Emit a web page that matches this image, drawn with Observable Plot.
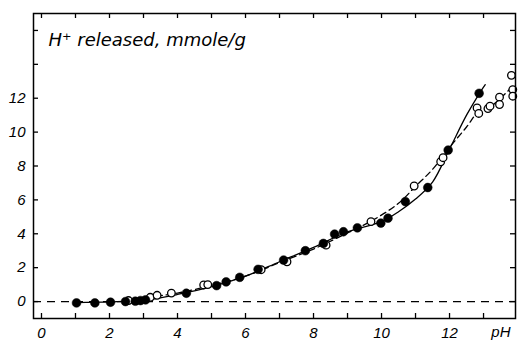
<!DOCTYPE html>
<html><head><meta charset="utf-8">
<script src="https://cdn.jsdelivr.net/npm/d3@7"></script>
<script src="https://cdn.jsdelivr.net/npm/@observablehq/plot@0.6"></script>
<style>
body{margin:0;background:#fff;}
svg{font-family:"Liberation Sans",Arial,sans-serif;}
</style>
</head><body>
<div id="chart"></div>
<script>
// Filled circles (solid curve)
const filledPH = [1.03,1.57,2.03,2.47,2.76,2.91,3.06,4.26,5.15,5.43,5.83,6.37,7.12,7.76,8.29,8.62,8.88,9.29,9.98,10.19,10.7,11.36,11.96,12.87];
const filledH  = [-0.08,-0.08,-0.04,0.0,0.02,0.06,0.1,0.49,0.94,1.16,1.43,1.9,2.45,3.0,3.43,3.98,4.12,4.35,4.63,4.92,5.9,6.73,8.94,12.29];
// Open circles (dashed curve)
const openPH = [2.56,3.2,3.4,3.82,4.77,4.89,6.46,7.22,8.37,9.69,10.96,11.74,11.81,12.81,12.86,13.13,13.19,13.47,13.47,13.82,13.86,13.86];
const openH  = [0.06,0.25,0.37,0.5,0.98,1.0,1.88,2.35,3.33,4.72,6.82,8.25,8.49,11.43,11.1,11.39,11.53,12.06,11.63,13.35,12.51,12.12];
// Curve nodes
const solidPH = [1.0,2.0,3.0,4.0,5.0,6.0,7.0,8.0,9.0,10.0,10.5,11.0,11.5,12.0,12.5,12.9,13.05];
const solidH  = [-0.06,-0.02,0.08,0.42,0.88,1.5,2.35,3.2,4.12,4.72,5.3,6.05,7.05,9.0,11.0,12.35,12.8];
const dashPH = [2.5,3.4,4.0,5.0,6.0,7.0,8.0,9.0,9.7,10.5,11.0,11.5,12.0,12.5,12.85,13.2,13.5,13.85];
const dashH  = [0.05,0.32,0.5,0.95,1.5,2.3,3.1,4.05,4.75,5.8,6.8,7.8,9.1,10.3,11.2,11.5,12.0,12.7];
// Axes
const xTicks = [0,1,2,3,4,5,6,7,8,9,10,11,12,13];
const xLabels = [0,2,4,6,8,10,12];
const yTicks = [0,2,4,6,8,10,12,14,16];
const yLabels = [0,2,4,6,8,10,12];
const yTitle = "H\u207A released, mmole/g";
const xTitle = "pH";

const filled = filledPH.map((x,i)=>({x, y: filledH[i]}));
const open = openPH.map((x,i)=>({x, y: openH[i]}));
const solid = solidPH.map((x,i)=>({x, y: solidH[i]}));
const dashed = dashPH.map((x,i)=>({x, y: dashH[i]}));

const xDom = [-0.235, 13.94], yDom = [-1, 17];
const tx = 5/34, ty = 5/17; // inward tick length (5px) in data units
const font = {fontSize: 15, fontStyle: "italic"};

const chart = Plot.plot({
  width: 518, height: 340,
  marginLeft: 33, marginRight: 3, marginTop: 13, marginBottom: 22,
  x: {domain: xDom}, y: {domain: yDom},
  style: {fontFamily: "Liberation Sans, Arial, sans-serif"},
  marks: [
    Plot.ruleY([0], {stroke: "black", strokeWidth: 1.2, strokeDasharray: "8,6"}),
    // inward ticks
    Plot.ruleX(xTicks, {x: d=>d, y1: yDom[0], y2: yDom[0]+ty, strokeWidth: 1.3}),
    Plot.ruleX(xTicks, {x: d=>d, y1: yDom[1], y2: yDom[1]-ty, strokeWidth: 1.3}),
    Plot.ruleY(yTicks, {y: d=>d, x1: xDom[0], x2: xDom[0]+tx, strokeWidth: 1.3}),
    Plot.ruleY(yTicks, {y: d=>d, x1: xDom[1], x2: xDom[1]-tx, strokeWidth: 1.3}),
    Plot.axisX(xLabels, {tickSize: 0, tickPadding: 9, ...font, fill: "black", label: null}),
    Plot.axisY(yLabels, {tickSize: 0, tickPadding: 8, ...font, fill: "black", label: null}),
    Plot.text([xTitle], {frameAnchor: "bottom-right", dx: -5, dy: 14, lineAnchor: "middle", ...font, fill: "black"}),
    Plot.text([yTitle], {frameAnchor: "top-left", dx: 15, dy: 27, lineAnchor: "middle", textAnchor: "start", fontFamily: "DejaVu Sans, sans-serif", fontSize: 18, fontStyle: "italic", letterSpacing: "0.8px", fill: "black"}),
    Plot.line(dashed, {x: "x", y: "y", curve: "catmull-rom", stroke: "black", strokeWidth: 1.3, strokeDasharray: "6,4"}),
    Plot.line(solid, {x: "x", y: "y", curve: "catmull-rom", stroke: "black", strokeWidth: 1.3}),
    Plot.dot(open, {x: "x", y: "y", r: 3.8, fill: "white", stroke: "black", strokeWidth: 1.3}),
    Plot.dot(filled, {x: "x", y: "y", r: 4.4, fill: "black", stroke: "black", strokeWidth: 0.5}),
    Plot.frame({stroke: "black", strokeWidth: 1.5})
  ]
});
document.getElementById("chart").append(chart);
</script>
</body></html>
